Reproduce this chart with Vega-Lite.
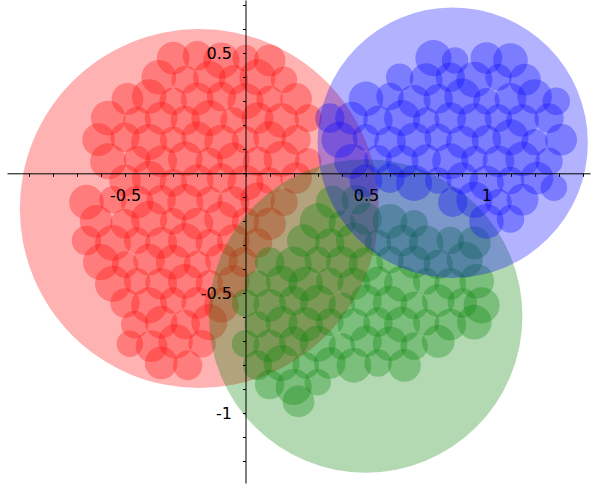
{
  "$schema": "https://vega.github.io/schema/vega-lite/v6.json",
  "width": 583,
  "height": 483,
  "autosize": {"type": "none"},
  "padding": {"left": 7, "top": 0, "right": 5, "bottom": 8},
  "background": "white",
  "config": {"view": {"stroke": null}},
  "data": {"values": [
    {"p":"r","x":-0.1917,"y":-0.1467,"r":0.7464},
    {"p":"r","x":-0.30,"y":0.48,"r":0.068},{"p":"r","x":-0.20,"y":0.49,"r":0.061},{"p":"r","x":-0.10,"y":0.47,"r":0.075},{"p":"r","x":0.00,"y":0.48,"r":0.055},{"p":"r","x":0.10,"y":0.47,"r":0.066},
    {"p":"r","x":-0.36,"y":0.40,"r":0.072},{"p":"r","x":-0.25,"y":0.39,"r":0.057},{"p":"r","x":-0.15,"y":0.40,"r":0.068},{"p":"r","x":-0.05,"y":0.39,"r":0.061},{"p":"r","x":0.05,"y":0.40,"r":0.075},{"p":"r","x":0.16,"y":0.39,"r":0.055},
    {"p":"r","x":-0.49,"y":0.31,"r":0.066},{"p":"r","x":-0.40,"y":0.32,"r":0.072},{"p":"r","x":-0.30,"y":0.30,"r":0.057},{"p":"r","x":-0.20,"y":0.31,"r":0.068},{"p":"r","x":-0.10,"y":0.32,"r":0.061},{"p":"r","x":0.00,"y":0.30,"r":0.075},{"p":"r","x":0.10,"y":0.31,"r":0.055},{"p":"r","x":0.21,"y":0.31,"r":0.066},
    {"p":"r","x":-0.57,"y":0.23,"r":0.072},{"p":"r","x":-0.45,"y":0.22,"r":0.057},{"p":"r","x":-0.35,"y":0.23,"r":0.068},{"p":"r","x":-0.25,"y":0.22,"r":0.061},{"p":"r","x":-0.15,"y":0.23,"r":0.075},{"p":"r","x":-0.05,"y":0.22,"r":0.055},{"p":"r","x":0.05,"y":0.23,"r":0.066},{"p":"r","x":0.15,"y":0.22,"r":0.072},{"p":"r","x":0.26,"y":0.23,"r":0.057},
    {"p":"r","x":-0.61,"y":0.14,"r":0.068},{"p":"r","x":-0.50,"y":0.15,"r":0.061},{"p":"r","x":-0.40,"y":0.13,"r":0.075},{"p":"r","x":-0.30,"y":0.14,"r":0.055},{"p":"r","x":-0.20,"y":0.15,"r":0.066},{"p":"r","x":-0.10,"y":0.13,"r":0.072},{"p":"r","x":0.00,"y":0.14,"r":0.057},{"p":"r","x":0.10,"y":0.15,"r":0.068},{"p":"r","x":0.21,"y":0.14,"r":0.061},
    {"p":"r","x":-0.57,"y":0.05,"r":0.075},{"p":"r","x":-0.45,"y":0.06,"r":0.055},{"p":"r","x":-0.35,"y":0.05,"r":0.066},{"p":"r","x":-0.25,"y":0.06,"r":0.072},{"p":"r","x":-0.15,"y":0.05,"r":0.057},{"p":"r","x":-0.05,"y":0.06,"r":0.068},{"p":"r","x":0.05,"y":0.05,"r":0.061},{"p":"r","x":0.15,"y":0.06,"r":0.075},{"p":"r","x":0.26,"y":0.05,"r":0.055},
    {"p":"r","x":-0.50,"y":-0.03,"r":0.066},{"p":"r","x":-0.40,"y":-0.02,"r":0.072},{"p":"r","x":-0.30,"y":-0.04,"r":0.057},{"p":"r","x":-0.20,"y":-0.03,"r":0.068},{"p":"r","x":-0.10,"y":-0.02,"r":0.061},{"p":"r","x":0.00,"y":-0.04,"r":0.075},{"p":"r","x":0.10,"y":-0.03,"r":0.055},{"p":"r","x":0.21,"y":-0.02,"r":0.066},
    {"p":"r","x":-0.66,"y":-0.12,"r":0.072},{"p":"r","x":-0.55,"y":-0.11,"r":0.057},{"p":"r","x":-0.45,"y":-0.12,"r":0.068},{"p":"r","x":-0.35,"y":-0.11,"r":0.061},{"p":"r","x":-0.25,"y":-0.12,"r":0.075},{"p":"r","x":-0.15,"y":-0.11,"r":0.055},{"p":"r","x":-0.05,"y":-0.12,"r":0.066},{"p":"r","x":0.05,"y":-0.11,"r":0.072},{"p":"r","x":0.16,"y":-0.12,"r":0.057},
    {"p":"r","x":-0.62,"y":-0.20,"r":0.068},{"p":"r","x":-0.50,"y":-0.21,"r":0.061},{"p":"r","x":-0.40,"y":-0.19,"r":0.075},{"p":"r","x":-0.30,"y":-0.20,"r":0.055},{"p":"r","x":-0.20,"y":-0.21,"r":0.066},{"p":"r","x":-0.10,"y":-0.19,"r":0.072},{"p":"r","x":0.00,"y":-0.20,"r":0.057},{"p":"r","x":0.10,"y":-0.21,"r":0.068},
    {"p":"r","x":-0.66,"y":-0.28,"r":0.061},{"p":"r","x":-0.55,"y":-0.29,"r":0.075},{"p":"r","x":-0.45,"y":-0.28,"r":0.055},{"p":"r","x":-0.35,"y":-0.29,"r":0.066},{"p":"r","x":-0.25,"y":-0.28,"r":0.072},{"p":"r","x":-0.15,"y":-0.29,"r":0.057},{"p":"r","x":-0.05,"y":-0.28,"r":0.068},{"p":"r","x":0.05,"y":-0.29,"r":0.061},
    {"p":"r","x":-0.60,"y":-0.37,"r":0.075},{"p":"r","x":-0.50,"y":-0.38,"r":0.055},{"p":"r","x":-0.40,"y":-0.36,"r":0.066},{"p":"r","x":-0.30,"y":-0.37,"r":0.072},{"p":"r","x":-0.20,"y":-0.38,"r":0.057},{"p":"r","x":-0.10,"y":-0.36,"r":0.068},{"p":"r","x":-0.01,"y":-0.37,"r":0.061},
    {"p":"r","x":-0.55,"y":-0.46,"r":0.075},{"p":"r","x":-0.45,"y":-0.45,"r":0.055},{"p":"r","x":-0.35,"y":-0.46,"r":0.066},{"p":"r","x":-0.25,"y":-0.45,"r":0.072},{"p":"r","x":-0.15,"y":-0.46,"r":0.057},{"p":"r","x":-0.05,"y":-0.45,"r":0.068},
    {"p":"r","x":-0.50,"y":-0.54,"r":0.061},{"p":"r","x":-0.40,"y":-0.55,"r":0.075},{"p":"r","x":-0.30,"y":-0.53,"r":0.055},{"p":"r","x":-0.20,"y":-0.54,"r":0.066},{"p":"r","x":-0.10,"y":-0.55,"r":0.072},
    {"p":"r","x":-0.46,"y":-0.63,"r":0.057},{"p":"r","x":-0.35,"y":-0.62,"r":0.068},{"p":"r","x":-0.25,"y":-0.63,"r":0.061},{"p":"r","x":-0.15,"y":-0.62,"r":0.075},
    {"p":"r","x":-0.48,"y":-0.71,"r":0.055},{"p":"r","x":-0.39,"y":-0.72,"r":0.066},{"p":"r","x":-0.29,"y":-0.70,"r":0.072},{"p":"r","x":-0.18,"y":-0.71,"r":0.057},
    {"p":"r","x":-0.35,"y":-0.79,"r":0.068},{"p":"r","x":-0.24,"y":-0.80,"r":0.061},
    {"p":"g","x":0.499,"y":-0.5946,"r":0.6516},
    {"p":"g","x":0.36,"y":-0.12,"r":0.068},{"p":"g","x":0.46,"y":-0.11,"r":0.061},
    {"p":"g","x":0.30,"y":-0.20,"r":0.075},{"p":"g","x":0.40,"y":-0.21,"r":0.055},{"p":"g","x":0.50,"y":-0.19,"r":0.066},{"p":"g","x":0.60,"y":-0.20,"r":0.072},{"p":"g","x":0.70,"y":-0.21,"r":0.057},
    {"p":"g","x":0.24,"y":-0.28,"r":0.068},{"p":"g","x":0.35,"y":-0.29,"r":0.061},{"p":"g","x":0.45,"y":-0.28,"r":0.075},{"p":"g","x":0.55,"y":-0.29,"r":0.055},{"p":"g","x":0.65,"y":-0.28,"r":0.066},{"p":"g","x":0.75,"y":-0.29,"r":0.072},{"p":"g","x":0.85,"y":-0.28,"r":0.057},{"p":"g","x":0.95,"y":-0.29,"r":0.068},
    {"p":"g","x":0.10,"y":-0.37,"r":0.061},{"p":"g","x":0.20,"y":-0.38,"r":0.075},{"p":"g","x":0.30,"y":-0.36,"r":0.055},{"p":"g","x":0.40,"y":-0.37,"r":0.066},{"p":"g","x":0.50,"y":-0.38,"r":0.072},{"p":"g","x":0.60,"y":-0.36,"r":0.057},{"p":"g","x":0.70,"y":-0.37,"r":0.068},{"p":"g","x":0.80,"y":-0.38,"r":0.061},{"p":"g","x":0.91,"y":-0.36,"r":0.075},
    {"p":"g","x":0.05,"y":-0.46,"r":0.055},{"p":"g","x":0.15,"y":-0.45,"r":0.066},{"p":"g","x":0.25,"y":-0.46,"r":0.072},{"p":"g","x":0.35,"y":-0.45,"r":0.057},{"p":"g","x":0.45,"y":-0.46,"r":0.068},{"p":"g","x":0.55,"y":-0.45,"r":0.061},{"p":"g","x":0.65,"y":-0.46,"r":0.075},{"p":"g","x":0.75,"y":-0.45,"r":0.055},{"p":"g","x":0.85,"y":-0.46,"r":0.066},{"p":"g","x":0.96,"y":-0.45,"r":0.072},
    {"p":"g","x":0.00,"y":-0.54,"r":0.057},{"p":"g","x":0.10,"y":-0.55,"r":0.068},{"p":"g","x":0.20,"y":-0.53,"r":0.061},{"p":"g","x":0.30,"y":-0.54,"r":0.075},{"p":"g","x":0.40,"y":-0.55,"r":0.055},{"p":"g","x":0.50,"y":-0.53,"r":0.066},{"p":"g","x":0.60,"y":-0.54,"r":0.072},{"p":"g","x":0.70,"y":-0.55,"r":0.057},{"p":"g","x":0.80,"y":-0.53,"r":0.068},{"p":"g","x":0.90,"y":-0.54,"r":0.061},{"p":"g","x":0.98,"y":-0.55,"r":0.075},
    {"p":"g","x":0.05,"y":-0.63,"r":0.055},{"p":"g","x":0.15,"y":-0.62,"r":0.066},{"p":"g","x":0.25,"y":-0.63,"r":0.072},{"p":"g","x":0.35,"y":-0.62,"r":0.057},{"p":"g","x":0.45,"y":-0.63,"r":0.068},{"p":"g","x":0.55,"y":-0.62,"r":0.061},{"p":"g","x":0.65,"y":-0.63,"r":0.075},{"p":"g","x":0.75,"y":-0.62,"r":0.055},{"p":"g","x":0.85,"y":-0.63,"r":0.066},{"p":"g","x":0.95,"y":-0.62,"r":0.072},
    {"p":"g","x":0.00,"y":-0.71,"r":0.057},{"p":"g","x":0.10,"y":-0.72,"r":0.068},{"p":"g","x":0.20,"y":-0.70,"r":0.061},{"p":"g","x":0.30,"y":-0.71,"r":0.075},{"p":"g","x":0.40,"y":-0.72,"r":0.055},{"p":"g","x":0.50,"y":-0.70,"r":0.066},{"p":"g","x":0.60,"y":-0.71,"r":0.072},{"p":"g","x":0.70,"y":-0.72,"r":0.057},{"p":"g","x":0.80,"y":-0.70,"r":0.068},
    {"p":"g","x":0.05,"y":-0.80,"r":0.061},{"p":"g","x":0.15,"y":-0.79,"r":0.075},{"p":"g","x":0.25,"y":-0.80,"r":0.055},{"p":"g","x":0.35,"y":-0.79,"r":0.066},{"p":"g","x":0.45,"y":-0.80,"r":0.072},{"p":"g","x":0.55,"y":-0.79,"r":0.057},{"p":"g","x":0.66,"y":-0.80,"r":0.068},
    {"p":"g","x":0.10,"y":-0.88,"r":0.061},{"p":"g","x":0.20,"y":-0.89,"r":0.075},{"p":"g","x":0.30,"y":-0.87,"r":0.055},
    {"p":"g","x":0.22,"y":-0.95,"r":0.066},
    {"p":"b","x":0.860,"y":0.1275,"r":0.562},
    {"p":"b","x":0.78,"y":0.48,"r":0.075},{"p":"b","x":0.87,"y":0.47,"r":0.055},{"p":"b","x":1.00,"y":0.48,"r":0.066},{"p":"b","x":1.10,"y":0.47,"r":0.072},
    {"p":"b","x":0.64,"y":0.40,"r":0.057},{"p":"b","x":0.75,"y":0.39,"r":0.068},{"p":"b","x":0.85,"y":0.40,"r":0.061},{"p":"b","x":0.95,"y":0.39,"r":0.075},{"p":"b","x":1.05,"y":0.40,"r":0.055},{"p":"b","x":1.16,"y":0.39,"r":0.066},
    {"p":"b","x":0.50,"y":0.31,"r":0.072},{"p":"b","x":0.60,"y":0.32,"r":0.057},{"p":"b","x":0.70,"y":0.30,"r":0.068},{"p":"b","x":0.80,"y":0.31,"r":0.061},{"p":"b","x":0.90,"y":0.32,"r":0.075},{"p":"b","x":1.00,"y":0.30,"r":0.055},{"p":"b","x":1.10,"y":0.31,"r":0.066},{"p":"b","x":1.20,"y":0.32,"r":0.072},{"p":"b","x":1.29,"y":0.30,"r":0.057},
    {"p":"b","x":0.35,"y":0.23,"r":0.061},{"p":"b","x":0.44,"y":0.23,"r":0.068},{"p":"b","x":0.55,"y":0.22,"r":0.061},{"p":"b","x":0.65,"y":0.23,"r":0.075},{"p":"b","x":0.75,"y":0.22,"r":0.055},{"p":"b","x":0.85,"y":0.23,"r":0.066},{"p":"b","x":0.95,"y":0.22,"r":0.072},{"p":"b","x":1.05,"y":0.23,"r":0.057},{"p":"b","x":1.15,"y":0.22,"r":0.068},{"p":"b","x":1.26,"y":0.23,"r":0.061},
    {"p":"b","x":0.39,"y":0.14,"r":0.075},{"p":"b","x":0.50,"y":0.15,"r":0.055},{"p":"b","x":0.60,"y":0.13,"r":0.066},{"p":"b","x":0.70,"y":0.14,"r":0.072},{"p":"b","x":0.80,"y":0.15,"r":0.057},{"p":"b","x":0.90,"y":0.13,"r":0.068},{"p":"b","x":1.00,"y":0.14,"r":0.061},{"p":"b","x":1.10,"y":0.15,"r":0.075},{"p":"b","x":1.20,"y":0.13,"r":0.055},{"p":"b","x":1.31,"y":0.14,"r":0.066},
    {"p":"b","x":0.44,"y":0.05,"r":0.072},{"p":"b","x":0.55,"y":0.06,"r":0.057},{"p":"b","x":0.65,"y":0.05,"r":0.068},{"p":"b","x":0.75,"y":0.06,"r":0.061},{"p":"b","x":0.85,"y":0.05,"r":0.075},{"p":"b","x":0.95,"y":0.06,"r":0.055},{"p":"b","x":1.05,"y":0.05,"r":0.066},{"p":"b","x":1.15,"y":0.06,"r":0.072},{"p":"b","x":1.26,"y":0.05,"r":0.057},
    {"p":"b","x":0.50,"y":-0.03,"r":0.068},{"p":"b","x":0.60,"y":-0.02,"r":0.061},{"p":"b","x":0.70,"y":-0.04,"r":0.075},{"p":"b","x":0.80,"y":-0.03,"r":0.055},{"p":"b","x":0.90,"y":-0.02,"r":0.066},{"p":"b","x":1.00,"y":-0.04,"r":0.072},{"p":"b","x":1.10,"y":-0.03,"r":0.057},{"p":"b","x":1.21,"y":-0.02,"r":0.068},{"p":"b","x":1.28,"y":-0.06,"r":0.055},
    {"p":"b","x":0.86,"y":-0.12,"r":0.061},{"p":"b","x":0.95,"y":-0.11,"r":0.075},{"p":"b","x":1.05,"y":-0.12,"r":0.055},{"p":"b","x":1.15,"y":-0.11,"r":0.066},
    {"p":"b","x":1.00,"y":-0.20,"r":0.072},{"p":"b","x":1.10,"y":-0.19,"r":0.057}
  ]},
  "mark": {"type": "circle", "opacity": 0.3, "strokeWidth": 0},
  "encoding": {
    "x": {
      "field": "x", "type": "quantitative",
      "scale": {"domain": [-0.99, 1.43], "nice": false, "zero": false},
      "axis": {
        "orient": "bottom", "offset": -309.7, "zindex": 1, "title": null, "grid": false,
        "values": [-0.9,-0.8,-0.7,-0.6,-0.5,-0.4,-0.3,-0.2,-0.1,0,0.1,0.2,0.3,0.4,0.5,0.6,0.7,0.8,0.9,1,1.1,1.2,1.3,1.4],
        "labelExpr": "datum.value == -0.5 ? '-0.5' : datum.value == 0.5 ? '0.5' : datum.value == 1 ? '1' : ''",
        "labelFont": "DejaVu Sans", "labelFontSize": 16, "labelColor": "black",
        "labelPadding": 11, "labelOverlap": false, "labelFlush": false,
        "domainColor": "black", "domainWidth": 1, "tickColor": "black", "tickWidth": 1, "tickSize": 3
      }
    },
    "y": {
      "field": "y", "type": "quantitative",
      "scale": {"domain": [-1.29, 0.722], "nice": false, "zero": false},
      "axis": {
        "orient": "left", "offset": -238.5, "zindex": 1, "title": null, "grid": false,
        "values": [-1.2,-1.1,-1,-0.9,-0.8,-0.7,-0.6,-0.5,-0.4,-0.3,-0.2,-0.1,0,0.1,0.2,0.3,0.4,0.5,0.6,0.7],
        "labelExpr": "datum.value == -0.5 ? '-0.5' : datum.value == 0.5 ? '0.5' : datum.value == -1 ? '-1' : ''",
        "labelFont": "DejaVu Sans", "labelFontSize": 16, "labelColor": "black",
        "labelPadding": 11, "labelOverlap": false, "labelFlush": false,
        "domainColor": "black", "domainWidth": 1, "tickColor": "black", "tickWidth": 1, "tickSize": 3
      }
    },
    "size": {"field": "r", "type": "quantitative", "scale": {"type": "pow", "exponent": 2, "domain": [0, 1], "range": [0, 231361]}, "legend": null},
    "color": {"field": "p", "type": "nominal", "scale": {"domain": ["r", "g", "b"], "range": ["#ff0000", "#008000", "#0000ff"]}, "legend": null}
  }
}
